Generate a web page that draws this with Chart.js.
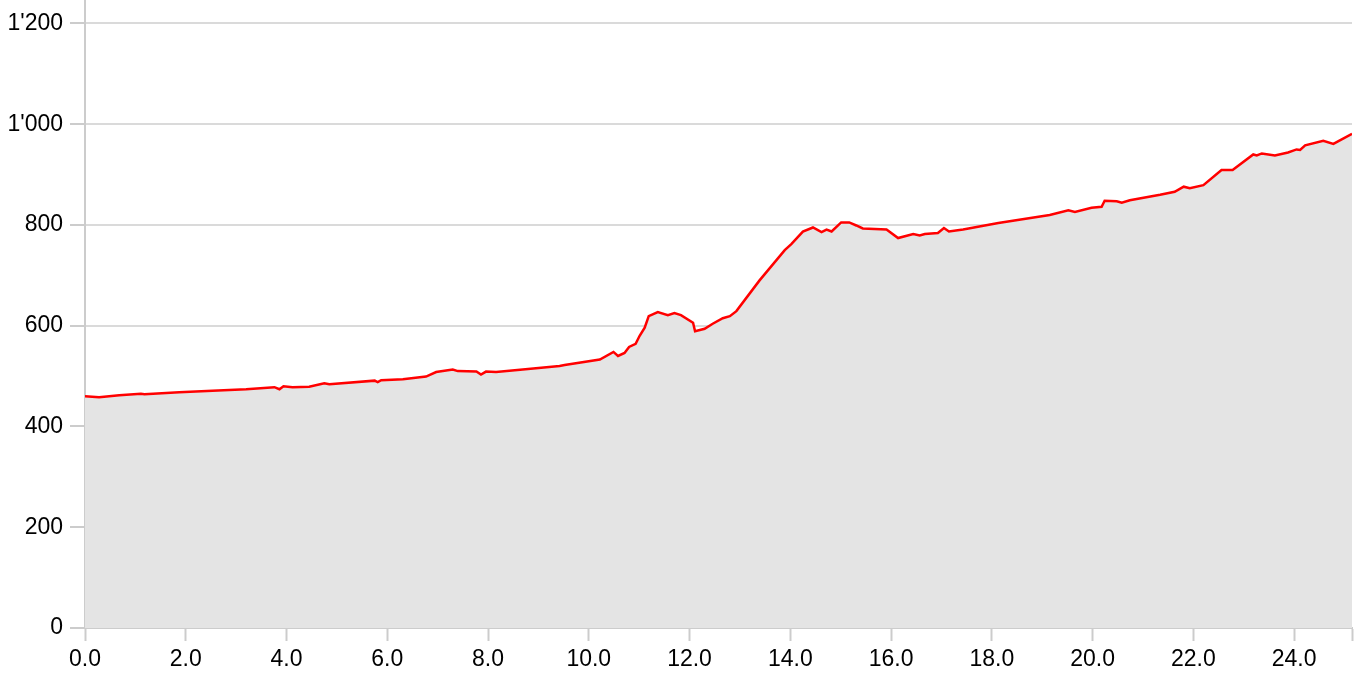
<!DOCTYPE html>
<html>
<head>
<meta charset="utf-8">
<script src="https://cdn.jsdelivr.net/npm/chart.js@4.4.1/dist/chart.umd.min.js"></script>
<style>
    html, body { margin: 0; padding: 0; background: #fff; }
    /* the plot runs up to the top edge, so the canvas is a bit bigger and shifted up */
    #frame { width: 1354px; height: 675px; overflow: hidden; position: relative; }
    #wrap { width: 1357px; height: 695px; position: absolute; left: 0; top: -20px; }
</style>
</head>
<body>
<div id="frame"><div id="wrap"><canvas id="profile-chart"></canvas></div></div>
<script>
// distance (km) and elevation (m)
const distances = [
    0, 0.28, 0.68, 1.11, 1.18, 1.87, 2.53, 3.20, 3.76, 3.86, 3.94, 4.12, 4.45, 4.75, 4.85,
    5.75, 5.81, 5.88, 6.31, 6.77, 6.97, 7.30, 7.40, 7.77, 7.86, 7.96, 8.16, 8.69, 9.42, 9.52,
    10.22, 10.49, 10.58, 10.71, 10.80, 10.93, 11.01, 11.11, 11.19, 11.37, 11.57, 11.70, 11.83,
    12.07, 12.11, 12.30, 12.46, 12.66, 12.80, 12.93, 13.39, 13.89, 14.02, 14.25, 14.45, 14.62,
    14.72, 14.82, 15.01, 15.17, 15.31, 15.44, 15.91, 16.14, 16.44, 16.57, 16.67, 16.93, 17.05,
    17.15, 17.43, 18.13, 19.15, 19.52, 19.65, 19.98, 20.18, 20.24, 20.48, 20.58, 20.74, 21.34,
    21.63, 21.81, 21.93, 22.20, 22.56, 22.78, 23.19, 23.26, 23.36, 23.62, 23.88, 24.05, 24.12,
    24.22, 24.58, 24.78, 25.15
];
const elevations = [
    460, 458, 462, 465, 464, 468, 471, 474, 478, 474, 480, 478, 479, 486, 484,
    491, 488, 492, 494, 499, 508, 513, 510, 509, 503, 509, 508, 513, 520, 522,
    533, 548, 540, 546, 558, 564, 580, 596, 619, 627, 621, 625, 621,
    606, 589, 594, 604, 615, 619, 629, 690, 750, 762, 787, 795, 786,
    791, 787, 805, 805, 799, 793, 791, 774, 782, 779, 782, 784, 794,
    787, 791, 804, 820, 829, 826, 834, 836, 848, 847, 844, 849, 860,
    866, 876, 873, 879, 909, 909, 940, 938, 942, 938, 944, 950, 949,
    958, 967, 961, 981
];
const xTicks = [0, 2, 4, 6, 8, 10, 12, 14, 16, 18, 20, 22, 24];
const yTicks = [0, 200, 400, 600, 800, 1000, 1200];

const X_MAX = 25.15;
const Y_MAX = 1245;

function formatElev(v) {
    // 1200 -> 1'200
    return String(v).replace(/\B(?=(\d{3})+(?!\d))/g, "'");
}

const points = distances.map((d, i) => ({ x: d, y: elevations[i] }));

const ctx = document.getElementById('profile-chart').getContext('2d');
new Chart(ctx, {
    type: 'line',
    data: {
        datasets: [{
            data: points,
            borderColor: '#ff0000',
            borderWidth: 2.5,
            backgroundColor: '#e4e4e4',
            fill: 'origin',
            pointRadius: 0,
            tension: 0,
        }]
    },
    options: {
        responsive: true,
        maintainAspectRatio: false,
        animation: false,
        layout: { padding: 0 },
        plugins: {
            legend: { display: false },
            tooltip: { enabled: false },
        },
        scales: {
            x: {
                type: 'linear',
                min: 0,
                max: X_MAX,
                afterBuildTicks: (scale) => {
                    scale.ticks = xTicks.map(v => ({ value: v })).concat([{ value: X_MAX }]);
                },
                afterFit: (scale) => { scale.height = 47; },
                border: { color: '#cccccc', width: 2 },
                grid: {
                    drawOnChartArea: false,
                    drawTicks: true,
                    tickLength: 13,
                    tickWidth: 2,
                    tickColor: '#cccccc',
                },
                ticks: {
                    autoSkip: false,
                    maxRotation: 0,
                    padding: 5,
                    color: '#000',
                    font: { family: 'Arial, "Liberation Sans", sans-serif', size: 23 },
                    callback: (v) => (v === X_MAX ? '' : Number(v).toFixed(1)),
                },
            },
            y: {
                min: 0,
                max: Y_MAX,
                afterBuildTicks: (scale) => {
                    scale.ticks = yTicks.map(v => ({ value: v }));
                },
                afterFit: (scale) => { scale.width = 85; },
                border: { color: '#cccccc', width: 2 },
                grid: {
                    color: '#dadada',
                    lineWidth: 2,
                    drawTicks: true,
                    tickLength: 15,
                    tickColor: '#cccccc',
                },
                ticks: {
                    padding: 7,
                    color: '#000',
                    font: { family: 'Arial, "Liberation Sans", sans-serif', size: 23 },
                    callback: (v) => formatElev(v),
                },
            },
        },
    },
});
</script>
</body>
</html>
